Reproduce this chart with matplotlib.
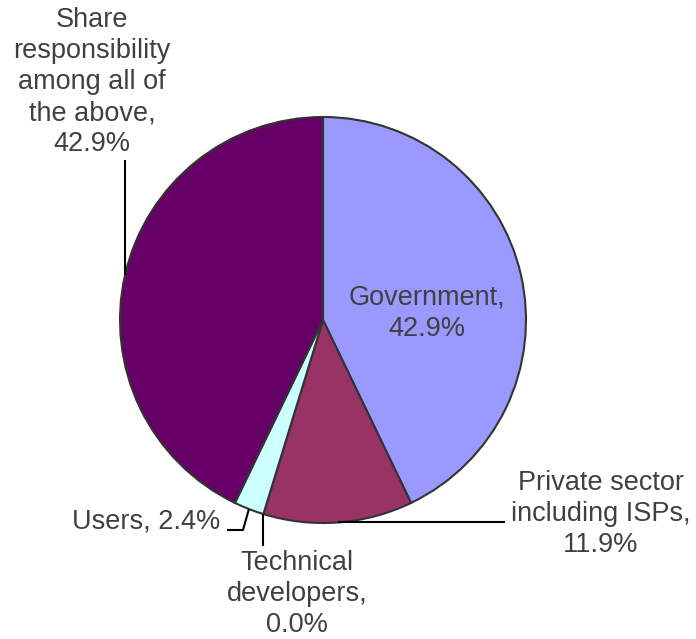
import numpy as np
import matplotlib
matplotlib.use("Agg")
import matplotlib.pyplot as plt

labels = ["Government", "Private sector\nincluding ISPs", "Technical\ndevelopers",
          "Users", "Share\nresponsibility\namong all of\nthe above"]
shares = [42.9, 11.9, 0.0, 2.4, 42.9]
colors = ["#9999FF", "#993366", "#FFFFCC", "#CCFFFF", "#660066"]

W, H = 696, 639
CX, CY, R = 323, 320, 203

plt.rcParams["font.family"] = ["Liberation Sans", "DejaVu Sans"]
fig = plt.figure(figsize=(W / 100, H / 100), dpi=100)
ax = fig.add_axes([(CX - R) / W, (H - CY - R) / H, 2 * R / W, 2 * R / H])

wedges, _ = ax.pie(shares, colors=colors, startangle=90, counterclock=False,
                   wedgeprops=dict(edgecolor="#333333", linewidth=1.5))
ax.set_xlim(-1, 1)
ax.set_ylim(-1, 1)
ax.set_aspect("equal")
ax.axis("off")


def px(x, y):
    # pixel position -> data coordinates of the pie axes
    return (x - CX) / R, (CY - y) / R


def edge(i):
    w = wedges[i]
    a = np.deg2rad((w.theta1 + w.theta2) / 2)
    return np.cos(a), np.sin(a)


txt = dict(fontsize=19.5, color="#404040", linespacing=1.25, clip_on=False)
lead = dict(color="black", linewidth=1.5, clip_on=False, solid_capstyle="butt")

# Government sits inside its wedge
gx, gy = px(427, 313)
ax.text(gx, gy, f"{labels[0]},\n{shares[0]:.1f}%", ha="center", va="center", **txt)

# Private sector: horizontal leader to the right
ex, ey = edge(1)
tx, ty = px(601, 514)
ax.plot([ex, px(505, 0)[0]], [ey, ey], **lead)
ax.text(tx, ty, f"{labels[1]},\n{shares[1]:.1f}%", ha="center", va="center", **txt)

# Technical developers: vertical leader straight down
ex, ey = edge(2)
ax.plot([ex, ex], [ey, px(0, 546)[1]], **lead)
tx, ty = px(297, 594)
ax.text(tx, ty, f"{labels[2]},\n{shares[2]:.1f}%", ha="center", va="center", **txt)

# Users: short elbow leader
ex, ey = edge(3)
x1, y1 = px(243, 530)
x0, _ = px(227, 530)
ax.plot([ex, x1, x0], [ey, y1, y1], **lead)
tx, ty = px(220, 522)
ax.text(tx, ty, f"{labels[3]}, {shares[3]:.1f}%", ha="right", va="center", **txt)

# Share responsibility: vertical leader up to the label
ex, ey = edge(4)
ax.plot([ex, ex], [ey, px(0, 160)[1]], **lead)
tx, ty = px(92, 82)
ax.text(tx, ty, f"{labels[4]},\n{shares[4]:.1f}%", ha="center", va="center", **txt)

fig.savefig("out.png", dpi=100, facecolor="white")
